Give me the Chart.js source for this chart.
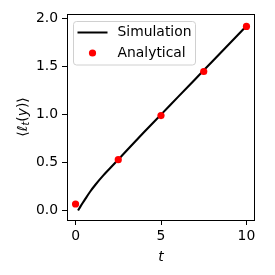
<!DOCTYPE html>
<html>
<head>
<meta charset="utf-8">
<script src="https://cdn.jsdelivr.net/npm/chart.js@4.4.1/dist/chart.umd.min.js"></script>
<style>
  html, body { margin: 0; padding: 0; background: #fff; }
  #wrap { width: 275px; height: 275px; }
</style>
</head>
<body>
<div id="wrap"><canvas id="chart" width="275" height="275"></canvas></div>
<script>
// data
const simT = [0.15, 0.3, 0.5, 0.85, 1.15, 1.6, 2.1, 2.6, 3.2, 4, 5, 6, 7, 8, 9, 10];
const simY = [0, 0.045, 0.1, 0.195, 0.265, 0.36, 0.455, 0.55, 0.665, 0.815, 1.0, 1.185, 1.37, 1.555, 1.74, 1.925];
const anaT = [0, 2.5, 5, 7.5, 10];
const anaY = [0.067, 0.53, 0.99, 1.45, 1.92];
const xTicks = [0, 5, 10];
const yTicks = [0, 0.5, 1, 1.5, 2];

const FONT = "DejaVu Sans";
const FS = 13.9;

// spines + legend box + y label (matplotlib look)
const extras = {
  id: "extras",
  afterDatasetsDraw(chart) {
    const ctx = chart.ctx;
    const a = chart.chartArea;
    ctx.save();
    ctx.strokeStyle = "#000";
    ctx.lineWidth = 1;
    ctx.strokeRect(Math.round(a.left) + 0.5, Math.round(a.top) + 0.5,
      Math.round(a.right - a.left) - 1, Math.round(a.bottom - a.top));

    // legend
    const lx = a.left + 6.5, ly = a.top + 7.5, lw = 122, lh = 43.5;
    ctx.beginPath();
    ctx.roundRect(lx, ly, lw, lh, 3);
    ctx.fillStyle = "rgba(255,255,255,0.8)";
    ctx.fill();
    ctx.strokeStyle = "#d0d0d0";
    ctx.lineWidth = 1;
    ctx.stroke();

    const sets = chart.data.datasets;
    ctx.font = FS + "px '" + FONT + "'";
    ctx.textBaseline = "middle";
    ctx.fillStyle = "#000";
    // Simulation
    ctx.beginPath();
    ctx.moveTo(lx + 4, ly + 11);
    ctx.lineTo(lx + 34, ly + 11);
    ctx.strokeStyle = sets[0].borderColor;
    ctx.lineWidth = 2;
    ctx.stroke();
    ctx.fillText(sets[0].label, lx + 44, ly + 11);
    // Analytical
    ctx.beginPath();
    ctx.arc(lx + 19, ly + 31.5, 3.6, 0, Math.PI * 2);
    ctx.fillStyle = sets[1].backgroundColor;
    ctx.fill();
    ctx.fillStyle = "#000";
    ctx.fillText(sets[1].label, lx + 44, ly + 31.5);

    // y axis label  <l_t(y)>
    const parts = [
      { t: "\u27E8", f: FS + "px '" + FONT + "'", dy: 0 },
      { t: "\u2113", f: "italic " + FS + "px '" + FONT + "'", dy: 0 },
      { t: "t", f: "italic " + (FS * 0.7) + "px '" + FONT + "'", dy: 3 },
      { t: "(", f: FS + "px '" + FONT + "'", dy: 0 },
      { t: "y", f: "italic " + FS + "px '" + FONT + "'", dy: 0 },
      { t: ")\u27E9", f: FS + "px '" + FONT + "'", dy: 0 }
    ];
    let total = 0;
    parts.forEach(p => { ctx.font = p.f; p.w = ctx.measureText(p.t).width; total += p.w; });
    ctx.translate(23, (a.top + a.bottom) / 2);
    ctx.rotate(-Math.PI / 2);
    ctx.textBaseline = "middle";
    ctx.textAlign = "left";
    let x = -total / 2;
    parts.forEach(p => {
      ctx.font = p.f;
      ctx.fillText(p.t, x, p.dy);
      x += p.w;
    });
    ctx.restore();
  }
};

new Chart(document.getElementById("chart"), {
  type: "line",
  data: {
    datasets: [
      {
        label: "Simulation",
        data: simT.map((t, i) => ({ x: t, y: simY[i] })),
        borderColor: "#000",
        backgroundColor: "#000",
        borderWidth: 2.1,
        pointRadius: 0,
        cubicInterpolationMode: "monotone",
        order: 2
      },
      {
        label: "Analytical",
        data: anaT.map((t, i) => ({ x: t, y: anaY[i] })),
        showLine: false,
        borderColor: "#ff0000",
        backgroundColor: "#ff0000",
        pointRadius: 3.6,
        pointBorderWidth: 0,
        order: 1
      }
    ]
  },
  options: {
    responsive: false,
    animation: false,
    layout: { padding: { top: 14, right: 20, left: 0, bottom: 0 } },
    plugins: { legend: { display: false }, tooltip: { enabled: false } },
    scales: {
      x: {
        type: "linear",
        min: -0.5,
        max: 10.5,
        afterBuildTicks: s => { s.ticks = xTicks.map(v => ({ value: v })); },
        afterFit: s => { s.height = 55; },
        grid: { drawOnChartArea: false, drawTicks: true, tickLength: 5, color: "#000" },
        border: { display: false },
        ticks: {
          color: "#000", padding: 3, maxRotation: 0,
          font: { family: FONT, size: FS },
          callback: v => String(v)
        },
        title: {
          display: true, text: "t", color: "#000", padding: { top: 0, bottom: 9 },
          font: { family: FONT, size: FS, style: "italic" }
        }
      },
      y: {
        type: "linear",
        min: -0.1,
        max: 2.05,
        afterBuildTicks: s => { s.ticks = yTicks.map(v => ({ value: v })); },
        afterFit: s => { s.width = 67; },
        grid: { drawOnChartArea: false, drawTicks: true, tickLength: 5, color: "#000" },
        border: { display: false },
        ticks: {
          color: "#000", padding: 4,
          font: { family: FONT, size: FS },
          callback: v => v.toFixed(1)
        }
      }
    }
  },
  plugins: [extras]
});
</script>
</body>
</html>
